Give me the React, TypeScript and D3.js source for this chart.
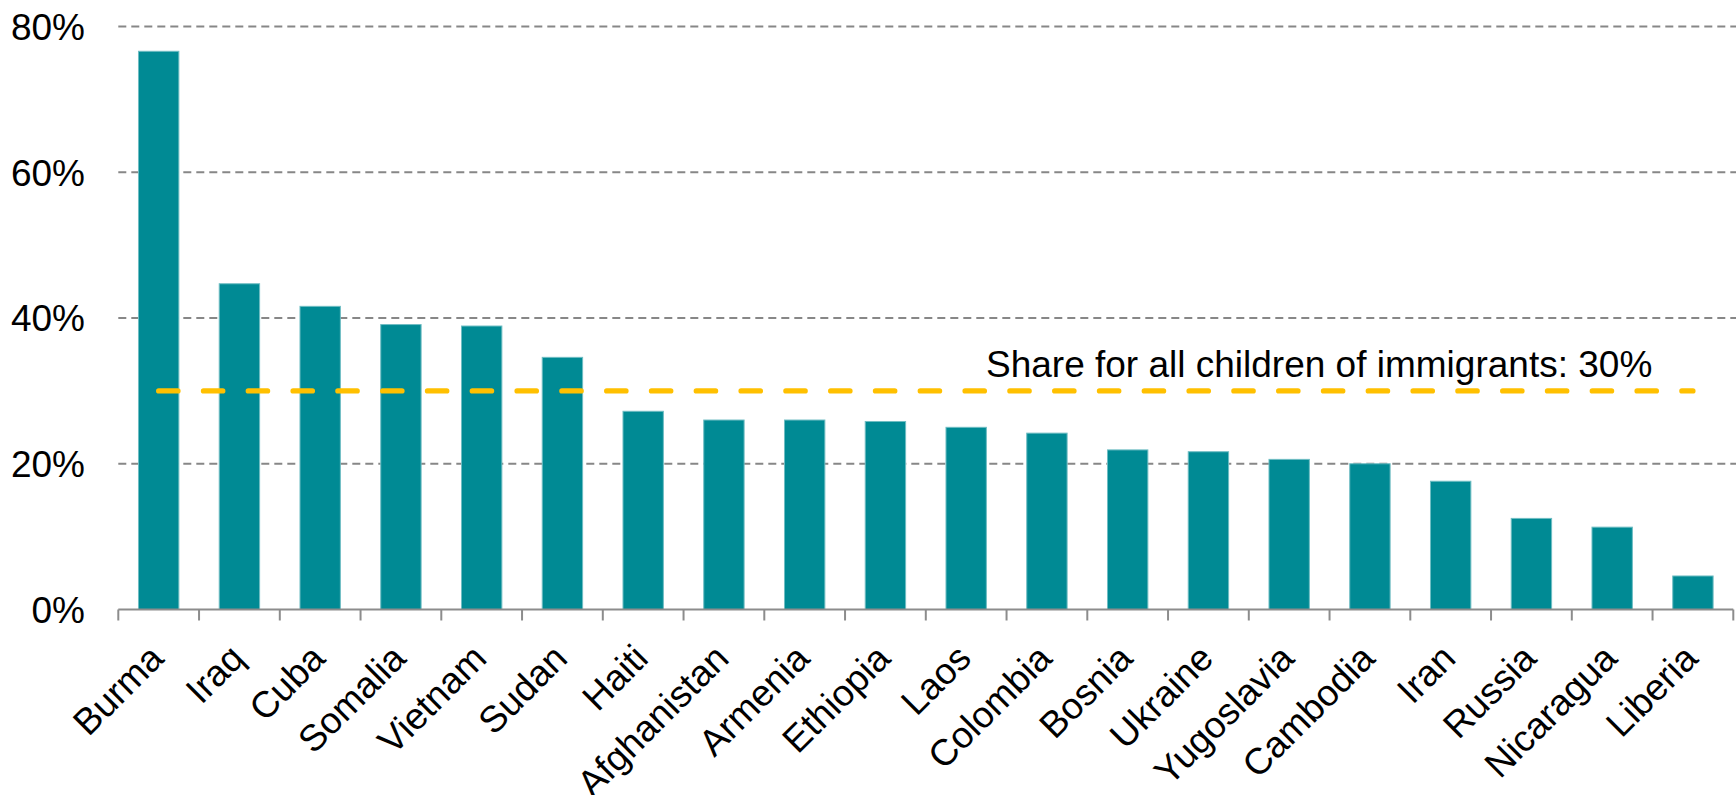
import React from "react";
import * as d3 from "d3";

const categories = [
  "Burma", "Iraq", "Cuba", "Somalia", "Vietnam", "Sudan", "Haiti", "Afghanistan",
  "Armenia", "Ethiopia", "Laos", "Colombia", "Bosnia", "Ukraine", "Yugoslavia",
  "Cambodia", "Iran", "Russia", "Nicaragua", "Liberia",
];
const shares = [
  76.6, 44.7, 41.6, 39.1, 38.9, 34.6, 27.2, 26.0, 26.0, 25.8, 25.0, 24.2, 21.9,
  21.65, 20.6, 20.0, 17.6, 12.5, 11.3, 4.6,
];
const yTicks = [0, 20, 40, 60, 80];
const averageShare = 30;
const averageLabel = "Share for all children of immigrants: 30%";

const W = 1736;
const H = 795;
const left = 118.3;
const right = 1733.3;
const top = 26.5;
const bottom = 609.5;
const FONT = "'Liberation Sans', Arial, sans-serif";

export default function App() {
  const x = d3.scaleBand<string>().domain(categories).range([left, right]).paddingInner(0.5).paddingOuter(0.25);
  const y = d3.scaleLinear().domain([0, 80]).range([bottom, top]);
  const step = x.step();
  const boundaries = d3.range(categories.length + 1).map((i) => left + i * step);
  const lineGen = d3.line<number[]>().x((d) => d[0]).y((d) => d[1]);
  const cFirst = (x(categories[0]) as number) + x.bandwidth() / 2;
  const cLast = (x(categories[categories.length - 1]) as number) + x.bandwidth() / 2;

  return (
    <svg width={W} height={H} style={{ position: "absolute", left: 0, top: 0, background: "#fff" }} fontFamily={FONT}>
      {/* gridlines */}
      {yTicks.filter((t) => t > 0).map((t) => (
        <line key={t} x1={left} x2={W} y1={y(t)} y2={y(t)} stroke="#878787" strokeWidth={2} strokeDasharray="8 5" />
      ))}
      {/* y tick labels */}
      {yTicks.map((t) => (
        <text key={t} x={85} y={y(t)} dy="0.36em" textAnchor="end" fontSize={37} fill="#000">
          {t}%
        </text>
      ))}
      {/* bars */}
      {categories.map((c, i) => (
        <rect
          key={c}
          x={x(c) as number}
          y={y(shares[i])}
          width={x.bandwidth()}
          height={bottom - y(shares[i])}
          fill="#008A94"
          stroke="#6FBDC3"
          strokeWidth={1}
        />
      ))}
      {/* axis */}
      <line x1={left} x2={right} y1={bottom} y2={bottom} stroke="#8C8C8C" strokeWidth={2} />
      {boundaries.map((b, i) => (
        <line key={i} x1={b} x2={b} y1={bottom} y2={bottom + 11} stroke="#8C8C8C" strokeWidth={2} />
      ))}
      {/* x labels */}
      {categories.map((c) => {
        const cx = (x(c) as number) + x.bandwidth() / 2;
        return (
          <text
            key={c}
            transform={`translate(${cx + 7},${bottom + 51}) rotate(-45)`}
            textAnchor="end"
            fontSize={37}
            fill="#000"
          >
            {c}
          </text>
        );
      })}
      {/* average line */}
      <path
        d={lineGen([[cFirst, y(averageShare)], [cLast, y(averageShare)]]) as string}
        stroke="#FFC000"
        strokeWidth={5.3}
        strokeLinecap="round"
        strokeDasharray="19.3 25.5"
        fill="none"
      />
      <text x={986} y={376.7} fontSize={37} fill="#000">
        {averageLabel}
      </text>
    </svg>
  );
}
